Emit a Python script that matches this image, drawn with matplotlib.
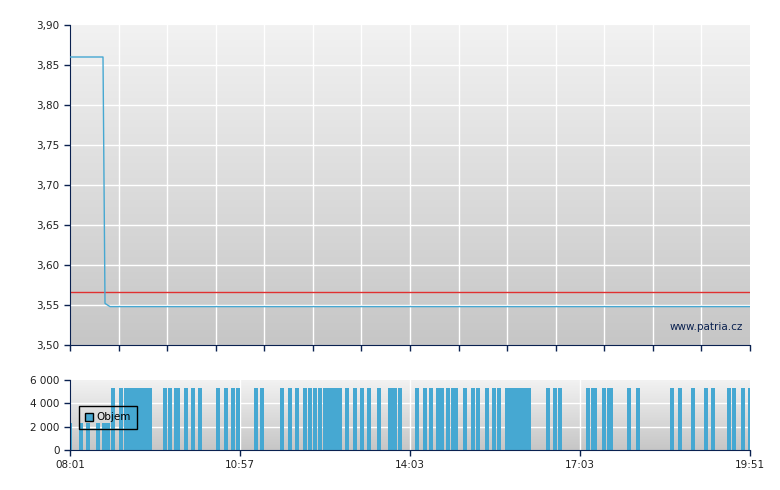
import matplotlib
matplotlib.use("Agg")
import matplotlib.pyplot as plt
import numpy as np

# price series (x = trade index position 0..680)
price_x = [0, 33, 35, 40, 680]
price_y = [3.86, 3.86, 3.552, 3.548, 3.548]
ref_price = 3.566

# volume bars: (start, end, volume)
vol_bars = [(1,2,2300),(9,13,2300),(16,20,2300),(26,30,2300),(32,40,2300),
 (41,45,5300),(49,53,5300),(54,82,5300),(93,97,5300),(98,102,5300),(104,110,5300),
 (114,118,5300),(121,125,5300),(128,132,5300),(146,150,5300),(154,158,5300),
 (161,165,5300),(166,170,5300),(184,188,5300),(190,194,5300),(210,214,5300),
 (218,222,5300),(225,229,5300),(233,237,5300),(238,242,5300),(243,247,5300),
 (248,252,5300),(253,272,5300),(275,279,5300),(283,287,5300),(290,294,5300),
 (297,301,5300),(307,311,5300),(318,327,5300),(328,332,5300),(345,349,5300),
 (353,357,5300),(359,363,5300),(366,374,5300),(376,380,5300),(381,388,5300),
 (393,397,5300),(401,405,5300),(406,410,5300),(415,419,5300),(422,426,5300),
 (427,431,5300),(435,461,5300),(476,480,5300),(483,487,5300),(488,492,5300),
 (516,520,5300),(521,527,5300),(532,536,5300),(537,543,5300),(557,561,5300),
 (566,570,5300),(600,604,5300),(608,612,5300),(621,625,5300),(634,638,5300),
 (641,645,5300),(657,661,5300),(662,666,5300),(671,675,5300),(678,680,5300)]
tick_pos = [0, 170, 340, 510, 680]
tick_labels = ["08:01", "10:57", "14:03", "17:03", "19:51"]
price_ticks = [3.50,3.55,3.60,3.65,3.70,3.75,3.80,3.85,3.90]

navy = "#0a2150"
blue = "#46a8d2"
fig = plt.figure(figsize=(7.8, 4.9), dpi=100)
ax1 = fig.add_axes([70/780, 1-345/490, 680/780, 320/490])
ax2 = fig.add_axes([70/780, 1-450/490, 680/780, 70/490])

def grad(ax, y0, y1):
    g = np.linspace(0, 1, 256).reshape(-1, 1)
    ax.imshow(g, extent=[0, 680, y0, y1], aspect="auto", origin="upper",
              cmap=matplotlib.colors.LinearSegmentedColormap.from_list("g", ["#f2f2f2", "#c6c6c6"]),
              zorder=0)

grad(ax1, 3.50, 3.90)
for p in price_ticks[1:-1]:
    ax1.axhline(p, color="white", lw=1, zorder=1)
minor = np.linspace(0, 680, 15)
for m in minor[1:-1]:
    ax1.axvline(m, color="white", lw=1, zorder=1)
ax1.axhline(ref_price, color="#e03030", lw=1, zorder=2)
ax1.plot(price_x, price_y, color=blue, lw=1, zorder=3)
ax1.set_xlim(0, 680); ax1.set_ylim(3.50, 3.90)
ax1.set_yticks(price_ticks)
ax1.set_yticklabels([f"{v:.2f}".replace(".", ",") for v in price_ticks])
ax1.set_xticks(minor); ax1.set_xticklabels([])
ax1.text(673, 3.522, "www.patria.cz", ha="right", va="center", fontsize=7.5, color=navy)

grad(ax2, 0, 6000)
for p in [2000, 4000]:
    ax2.axhline(p, color="white", lw=1, zorder=1)
for t in tick_pos[1:-1]:
    ax2.axvline(t, color="white", lw=1, zorder=1)
for s, e, v in vol_bars:
    ax2.bar(s, v, width=e - s, align="edge", color=blue, zorder=2, lw=0)
ax2.set_xlim(0, 680); ax2.set_ylim(0, 6000)
ax2.set_yticks([0, 2000, 4000, 6000])
ax2.set_yticklabels(["0", "2 000", "4 000", "6 000"])
ax2.set_xticks(tick_pos); ax2.set_xticklabels(tick_labels)
leg_patch = matplotlib.patches.Patch(facecolor=blue, edgecolor="black", label="Objem")
lg = ax2.legend(handles=[leg_patch], loc="lower left", bbox_to_anchor=(0.005, 0.23),
                fancybox=False, framealpha=1, edgecolor="black", fontsize=7.5,
                handlelength=0.8, handleheight=0.8, borderpad=0.6, handletextpad=0.3)
lg.get_frame().set_facecolor("none")

for ax in (ax1, ax2):
    for sname, sp in ax.spines.items():
        if sname in ("left", "bottom"):
            sp.set_color(navy)
        else:
            sp.set_visible(False)
    ax.tick_params(colors=navy, labelsize=7.5, length=4, width=1, labelcolor="#202020")
plt.savefig("out.png", dpi=100)
